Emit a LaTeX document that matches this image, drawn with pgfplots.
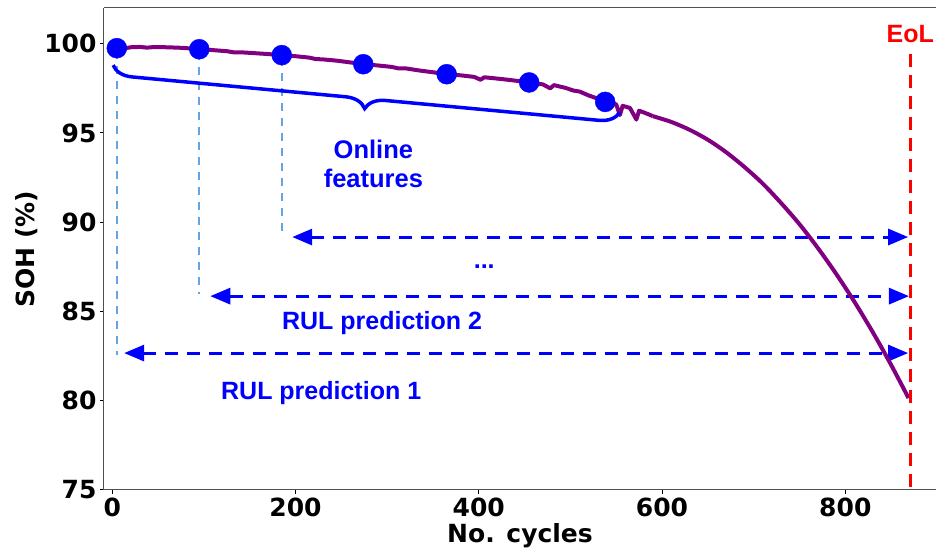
\documentclass[border=0pt]{standalone}
\usepackage{fontspec}
\setmainfont{DejaVu Sans}
\newfontfamily\arialfont{Liberation Sans}
\usepackage{pgfplots}
\pgfplotsset{compat=1.18}
\usetikzlibrary{arrows.meta,decorations.pathreplacing}
\definecolor{soh}{RGB}{128,0,128}
\definecolor{vline}{RGB}{100,165,225}
\definecolor{spine}{RGB}{80,80,80}

\begin{document}
\begin{tikzpicture}
\begin{axis}[name=ax, scale only axis, width=832pt, height=482pt,
 xmin=-9, xmax=899, ymin=75, ymax=102,
 axis x line*=bottom, axis y line*=left,
 axis line style={draw=spine, line width=1pt, -},
 xtick={0,200,...,800}, ytick={75,80,...,100},
 tick align=outside, major tick length=4pt, tick style={black, line width=1pt},
 /pgf/number format/assume math mode=true,
 ticklabel style={font=\fontsize{25}{30}\selectfont\bfseries},
 xlabel={No. cycles}, ylabel={SOH (\%)},
 label style={font=\fontsize{25}{30}\selectfont\bfseries},
 clip=false,
]
% vertical light-blue dashed guide lines
\addplot[vline, line width=2pt, dash pattern=on 8pt off 7pt] coordinates {(5,99.6) (5,82.56)};
\addplot[vline, line width=2pt, dash pattern=on 8pt off 7pt] coordinates {(95,99.55) (95,86.0)};
\addplot[vline, line width=2pt, dash pattern=on 8pt off 7pt] coordinates {(185,99.2) (185,89.25)};
% RUL arrows
\addplot[blue, line width=3pt, dash pattern=on 13pt off 9pt, {Triangle[length=20pt,width=16pt]}-{Triangle[length=20pt,width=16pt]}] coordinates {(13,82.67) (868.6,82.67)};
\addplot[blue, line width=3pt, dash pattern=on 13pt off 9pt, {Triangle[length=20pt,width=16pt]}-{Triangle[length=20pt,width=16pt]}] coordinates {(107,85.86) (869.5,85.86)};
\addplot[blue, line width=3pt, dash pattern=on 13pt off 9pt, {Triangle[length=20pt,width=16pt]}-{Triangle[length=20pt,width=16pt]}] coordinates {(196.4,89.17) (868.6,89.17)};
% SOH curve (noisy early part)
\addplot[soh, line width=4pt, line join=round] coordinates {
(2,99.62) (6,99.50) (10,99.68) (15,99.75) (20,99.80) (30,99.82) (38,99.78) (45,99.81) (60,99.80)
(75,99.77) (95,99.70) (110,99.64) (125,99.58) (132,99.52) (140,99.52) (155,99.47) (170,99.42)
(185,99.36) (200,99.30) (215,99.22) (222,99.14) (230,99.12) (245,99.05) (260,98.95) (275,98.85)
(290,98.78) (305,98.70) (312,98.62) (320,98.62) (335,98.50) (350,98.40) (365,98.29) (380,98.23)
(395,98.14) (402,97.98) (406,98.12) (425,98.02) (440,97.93) (455,97.83) (470,97.72)
(478,97.50) (482,97.68) (495,97.52) (503,97.38) (510,97.32) (520,97.10) (530,96.92) (540,96.74)
(550,96.60) (554,96.00) (557,96.52) (565,96.40) (572,95.75) (575,96.25) (585,96.05)
(590,95.94)};
% SOH curve (smooth late part)
\addplot[soh, line width=4pt, line join=round, smooth] coordinates {
(590,95.94) (610,95.62) (630,95.18) (650,94.62) (670,93.92) (690,93.09) (710,92.16)
(730,91.07) (750,89.89) (770,88.56) (790,87.11) (810,85.54) (830,83.84) (850,82.01) (869,80.15)};
% brace
\draw[blue, line width=3.5pt, decorate, decoration={brace, mirror, amplitude=20pt}] (axis cs:1,98.80) -- (axis cs:554,96.16);
% online feature points
\addplot[only marks, mark=*, mark size=10pt, blue, mark options={fill=blue, draw=blue}] coordinates {
(5,99.75) (95,99.69) (185,99.36) (274,98.85) (365,98.29) (455,97.83) (538,96.74)};
% EoL line
\addplot[red, line width=3.5pt, dash pattern=on 13pt off 8pt] coordinates {(871,99.4) (871,74.8)};
% annotations
\node[red, font=\arialfont\fontsize{25}{30}\selectfont\bfseries, anchor=base] at (axis cs:871,100.08) {EoL};
\node[blue, font=\arialfont\fontsize{25.5}{30}\selectfont\bfseries, anchor=base] at (axis cs:285,93.59) {Online};
\node[blue, font=\arialfont\fontsize{25.5}{30}\selectfont\bfseries, anchor=base] at (axis cs:285,91.97) {features};
\node[blue, font=\arialfont\fontsize{25}{30}\selectfont\bfseries, anchor=base] at (axis cs:406,87.43) {...};
\node[blue, font=\arialfont\fontsize{25}{30}\selectfont\bfseries, anchor=base] at (axis cs:294.5,84.01) {RUL prediction 2};
\node[blue, font=\arialfont\fontsize{25}{30}\selectfont\bfseries, anchor=base] at (axis cs:228,80.09) {RUL prediction 1};
\end{axis}
\draw[spine, line width=1pt] (ax.north west) -- (ax.north east);
\pgfresetboundingbox
\path[use as bounding box] ([xshift=-104pt,yshift=-66pt]ax.south west) rectangle ([yshift=8pt]ax.north east);
\end{tikzpicture}
\end{document}
